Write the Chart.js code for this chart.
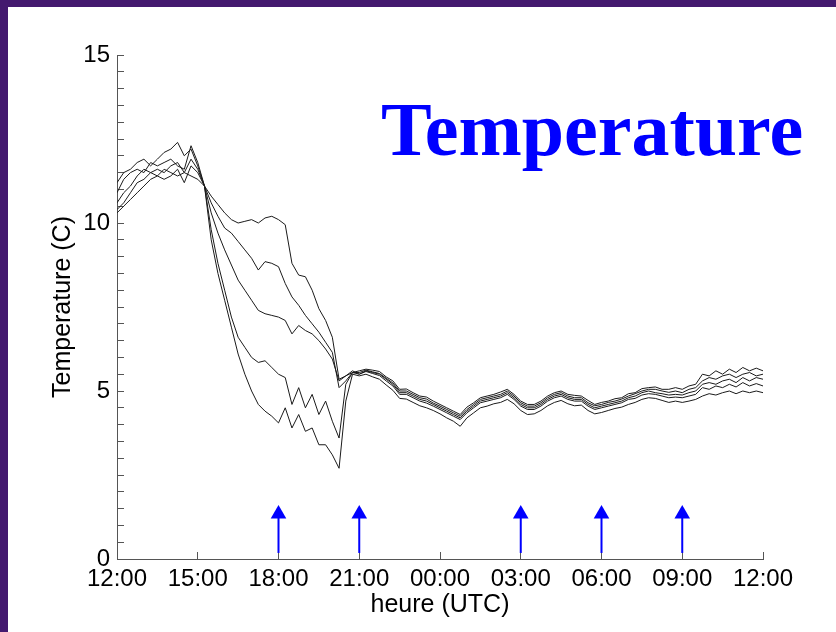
<!DOCTYPE html>
<html lang="fr">
<head>
   <meta charset="UTF-8" />
   <title>Temperature</title>
   <style>
      body {
         margin: 0;
         padding: 0;
         width: 836px;
         height: 632px;
         overflow: hidden;
         background-color: #44196f;
      }
      .panel {
         position: absolute;
         left: 8px;
         top: 7px;
         width: 828px;
         height: 625px;
         background-color: #ffffff;
      }
      .big-title {
         position: absolute;
         left: 373px;
         top: 84px;
         font-family: "Liberation Serif", "Times New Roman", serif;
         font-weight: bold;
         font-size: 76px;
         line-height: 1;
         color: #0000ff;
         white-space: nowrap;
      }
   </style>
   <script src="https://cdn.jsdelivr.net/npm/chart.js@4.4.0/dist/chart.umd.min.js"></script>
</head>
<body>
   <div class="panel">
      <canvas id="tempChart" width="828" height="625"></canvas>
      <div class="big-title">Temperature</div>
   </div>

   <script>
      // hours since 12:00 UTC (first day)
      const hours = [
         0, 0.25, 0.5, 0.75, 1, 1.25, 1.5, 1.75, 2, 2.25, 2.5, 2.75, 3, 3.25,
         3.5, 3.75, 4, 4.25, 4.5, 4.75, 5, 5.25, 5.5, 5.75, 6, 6.25, 6.5, 6.75,
         7, 7.25, 7.5, 7.75, 8, 8.25, 8.5, 8.75, 9, 9.25, 9.5, 9.75, 10, 10.25,
         10.5, 10.75, 11, 11.25, 11.5, 11.75, 12, 12.25, 12.5, 12.75, 13, 13.25,
         13.5, 13.75, 14, 14.25, 14.5, 14.75, 15, 15.25, 15.5, 15.75, 16, 16.25,
         16.5, 16.75, 17, 17.25, 17.5, 17.75, 18, 18.25, 18.5, 18.75, 19, 19.25,
         19.5, 19.75, 20, 20.25, 20.5, 20.75, 21, 21.25, 21.5, 21.75, 22, 22.25,
         22.5, 22.75, 23, 23.25, 23.5, 23.75, 24
      ];

      const sensor1 = [
         11.2, 11.5, 11.6, 11.8, 11.9, 11.7, 11.9, 12.1, 12.2, 12.4, 12.0, 12.2, 11.7, 11.1,
         10.8, 10.55, 10.3, 10.1, 10.0, 10.05, 10.1, 10.0, 10.15, 10.2, 10.1, 9.95, 8.8, 8.45,
         8.4, 8.0, 7.45, 7.1, 6.6, 5.35, 5.45, 5.55, 5.6,
         5.65, 5.62, 5.58, 5.42, 5.3, 5.05, 5.06, 4.95, 4.85, 4.82, 4.7, 4.6, 4.5, 4.4, 4.3,
         4.52, 4.65, 4.8, 4.85, 4.9, 4.97, 5.05, 4.9, 4.7, 4.6, 4.6, 4.7, 4.85, 4.95, 5.0,
         4.9, 4.87, 4.85, 4.72, 4.6, 4.66, 4.7, 4.77, 4.8, 4.92, 4.95, 5.07, 5.1, 5.12, 5.05,
         5.05, 5.1, 5.05, 5.15, 5.2, 5.5, 5.45, 5.6, 5.5, 5.65, 5.55, 5.7, 5.6, 5.68, 5.6
      ];
      const sensor2 = [
         10.9, 11.3, 11.5, 11.6, 11.5, 11.8, 11.7, 11.8, 11.9, 11.7, 11.6, 12.3, 11.8, 11.1,
         10.6, 10.2, 9.85, 9.7, 9.45, 9.2, 8.95, 8.6, 8.85, 8.8, 8.7, 8.2, 7.8, 7.55,
         7.25, 7.0, 6.75, 6.45, 6.15, 5.1, 5.3, 5.55, 5.55,
         5.62, 5.57, 5.52, 5.38, 5.24, 5.0, 5.0, 4.9, 4.8, 4.76, 4.64, 4.55, 4.45, 4.35, 4.25,
         4.45, 4.6, 4.75, 4.8, 4.85, 4.9, 5.0, 4.85, 4.65, 4.55, 4.55, 4.65, 4.8, 4.9, 4.95,
         4.85, 4.8, 4.8, 4.65, 4.56, 4.6, 4.66, 4.7, 4.76, 4.85, 4.92, 5.0, 5.05, 5.05, 5.0,
         4.96, 5.0, 4.95, 5.05, 5.1, 5.3, 5.4, 5.35, 5.45, 5.5, 5.4, 5.5, 5.55, 5.45, 5.5
      ];
      const sensor3 = [
         10.6, 10.9, 11.1, 11.4, 11.6, 11.5, 11.6, 11.5, 11.7, 11.8, 11.5, 11.9, 11.6, 11.1,
         10.3, 9.7, 9.2, 8.75, 8.3, 8.0, 7.7, 7.4, 7.3, 7.25, 7.2, 7.1, 6.7, 6.95,
         6.8, 6.7, 6.5, 6.25, 5.95, 5.3, 5.45, 5.6, 5.5,
         5.6, 5.55, 5.5, 5.35, 5.2, 4.95, 4.95, 4.85, 4.75, 4.7, 4.6, 4.5, 4.4, 4.3, 4.2,
         4.4, 4.55, 4.7, 4.75, 4.8, 4.85, 4.95, 4.8, 4.6, 4.5, 4.5, 4.6, 4.75, 4.85, 4.9,
         4.8, 4.75, 4.75, 4.6, 4.5, 4.55, 4.6, 4.65, 4.7, 4.8, 4.85, 4.95, 5.0, 4.95, 4.92,
         4.88, 4.9, 4.88, 4.95, 5.0, 5.2, 5.25, 5.2, 5.3, 5.35, 5.25, 5.4, 5.3, 5.4, 5.35
      ];
      const sensor4 = [
         10.4, 10.6, 10.9, 11.2, 11.3, 11.5, 11.4, 11.6, 11.5, 11.4, 11.5, 11.4, 11.3, 11.1,
         9.8, 8.8, 8.0, 7.2, 6.6, 6.3, 6.0, 5.85, 5.9, 5.7, 5.5, 5.4, 4.6, 5.1,
         4.5, 4.9, 4.3, 4.7, 4.1, 3.6, 5.2, 5.55, 5.5,
         5.58, 5.52, 5.46, 5.3, 5.15, 4.9, 4.9, 4.8, 4.7, 4.64, 4.55, 4.45, 4.35, 4.25, 4.15,
         4.35, 4.5, 4.65, 4.7, 4.75, 4.8, 4.9, 4.75, 4.55, 4.45, 4.45, 4.55, 4.7, 4.8, 4.85,
         4.75, 4.7, 4.7, 4.55, 4.45, 4.5, 4.55, 4.6, 4.65, 4.75, 4.78, 4.88, 4.92, 4.9, 4.85,
         4.8, 4.82, 4.8, 4.85, 4.9, 5.1, 5.05, 5.15, 5.1, 5.2, 5.12, 5.25, 5.15, 5.22, 5.15
      ];
      const sensor5 = [
         10.3, 10.5, 10.7, 10.9, 11.1, 11.3, 11.4, 11.3, 11.4, 11.6, 11.2, 11.7, 11.5, 11.1,
         9.5, 8.5, 7.7, 6.9, 6.1, 5.5, 5.0, 4.6, 4.4, 4.25, 4.05, 4.5, 3.9, 4.3,
         3.8, 3.9, 3.4, 3.4, 3.1, 2.7, 4.7, 5.5, 5.45,
         5.5, 5.42, 5.35, 5.18, 5.02, 4.78, 4.76, 4.66, 4.56, 4.5, 4.42, 4.32, 4.2, 4.1, 3.95,
         4.2, 4.35, 4.5, 4.55, 4.62, 4.66, 4.75, 4.62, 4.42, 4.3, 4.32, 4.42, 4.56, 4.66, 4.72,
         4.62, 4.56, 4.58, 4.42, 4.32, 4.36, 4.42, 4.48, 4.52, 4.6, 4.66, 4.75, 4.8, 4.78, 4.72,
         4.66, 4.7, 4.66, 4.7, 4.75, 4.85, 4.92, 4.88, 4.95, 5.0, 4.92, 5.0, 4.95, 5.0, 4.95
      ];

      // blue arrows (launch times), in hours since 12:00
      const arrowHours = [6, 9, 15, 18, 21];
      const arrowBase = 0.18;
      const arrowHead = 1.34;

      const xTickStep = 3;
      const yTickStep = 0.5;

      function hourLabel(v) {
         const h = (12 + v) % 24;
         return (h < 10 ? '0' : '') + h + ':00';
      }

      const series = [sensor1, sensor2, sensor3, sensor4, sensor5];
      const datasets = series.map(temps => ({
         data: temps.map((t, i) => ({ x: hours[i], y: t })),
         borderColor: '#1a1a1a',
         borderWidth: 1,
         pointRadius: 0,
         tension: 0
      }));

      arrowHours.forEach(h => {
         datasets.push({
            data: [{ x: h, y: arrowBase }, { x: h, y: arrowHead }],
            borderColor: '#0000ff',
            borderWidth: 2,
            pointStyle: 'triangle',
            pointRadius: [0, 9],
            pointBackgroundColor: '#0000ff',
            pointBorderColor: '#0000ff',
            pointBorderWidth: 0
         });
      });

      const font = { family: "'Liberation Sans', Arial, sans-serif", size: 24 };

      new Chart(document.getElementById('tempChart'), {
         type: 'line',
         data: { datasets: datasets },
         options: {
            responsive: false,
            animation: false,
            devicePixelRatio: 1,
            layout: { padding: { left: 0, top: 48, right: 73, bottom: 0 } },
            plugins: {
               legend: { display: false },
               tooltip: { enabled: false }
            },
            scales: {
               x: {
                  type: 'linear',
                  min: 0,
                  max: 24,
                  afterFit: scale => { scale.height = 73; },
                  border: { color: '#555555', width: 1 },
                  grid: { drawOnChartArea: false, tickLength: -7, color: '#555555' },
                  ticks: {
                     stepSize: xTickStep,
                     autoSkip: false,
                     maxRotation: 0,
                     padding: 13,
                     color: '#000000',
                     font: font,
                     callback: v => hourLabel(v)
                  },
                  title: {
                     display: true,
                     text: 'heure (UTC)',
                     color: '#000000',
                     font: { family: font.family, size: 25 },
                     padding: { top: 0, bottom: 12 }
                  }
               },
               y: {
                  min: 0,
                  max: 15,
                  afterFit: scale => { scale.width = 109; },
                  border: { color: '#555555', width: 1 },
                  grid: { drawOnChartArea: false, tickLength: -7, color: '#555555' },
                  ticks: {
                     stepSize: yTickStep,
                     autoSkip: false,
                     padding: 14,
                     color: '#000000',
                     font: font,
                     callback: v => (v % 5 === 0 ? String(v) : '')
                  },
                  title: {
                     display: true,
                     text: 'Temperature (C)',
                     color: '#000000',
                     font: { family: font.family, size: 25 },
                     padding: { top: 40, bottom: 0 }
                  }
               }
            }
         }
      });
   </script>
</body>
</html>
